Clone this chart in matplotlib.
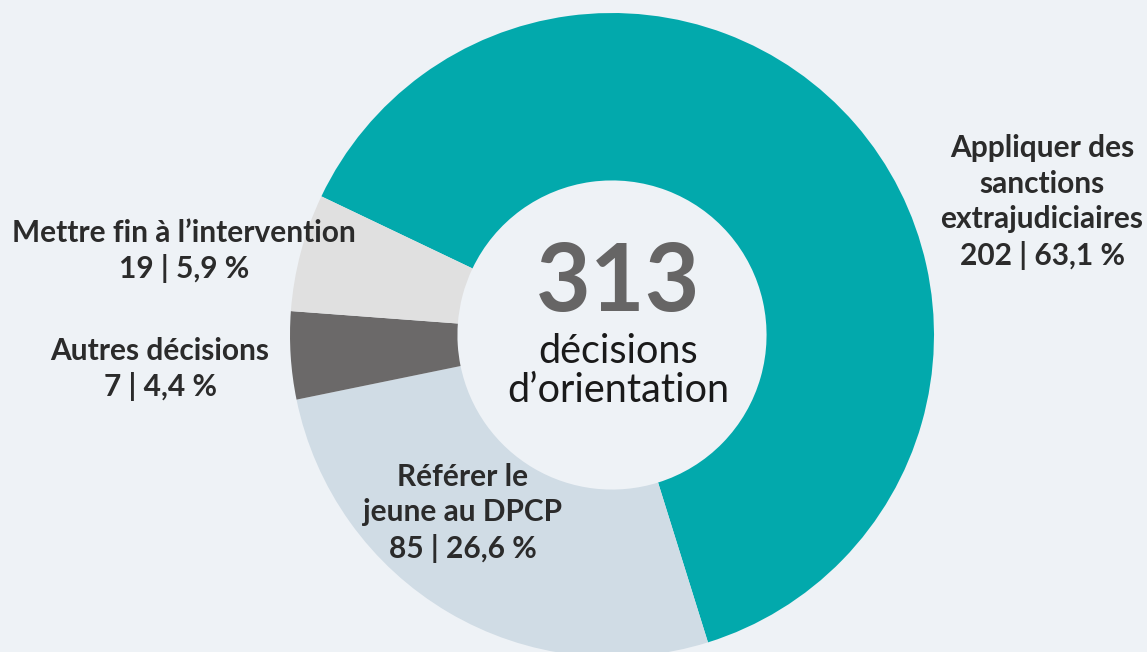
import matplotlib.pyplot as plt

# data
labels = ['Appliquer des\nsanctions\nextrajudiciaires', 'Référer le\njeune au DPCP',
          'Autres décisions', 'Mettre fin à l\u2019intervention']
counts = [202, 85, 7, 19]
shares = [63.1, 26.6, 4.4, 5.9]
colors = ['#02A9AC', '#D0DCE5', '#6B6969', '#E0E0E0']
total = 313

bg = '#EEF2F6'
plt.rcParams['font.family'] = ['Lato', 'DejaVu Sans']

W, H = 1147, 652
cx, cy, R = 612, 335, 322


def to_data(px, py):
    return (px - cx) / R, (cy - py) / R


fig = plt.figure(figsize=(W / 100, H / 100), dpi=100, facecolor=bg)
ax = fig.add_axes([0, 0, 1, 1])
ax.set_facecolor(bg)

ax.pie(shares, colors=colors, startangle=154.5, counterclock=False, radius=1,
       wedgeprops=dict(width=0.52, linewidth=0))

ax.set_xlim(-cx / R, (W - cx) / R)
ax.set_ylim(-(H - cy) / R, cy / R)
ax.set_aspect('auto')
ax.axis('off')

# slice labels
label_pos = [(1042, 202), (463, 513), (160, 369), (184, 251)]
for lab, n, s, (px, py) in zip(labels, counts, shares, label_pos):
    txt = lab + '\n' + f'{n} | {s:.1f} %'.replace('.', ',')
    x, y = to_data(px, py)
    ax.text(x, y, txt, ha='center', va='center', fontsize=21.5, fontweight='bold',
            color='#2B2B2B', linespacing=1.33)

# centre text
x, y = to_data(618, 284)
ax.text(x, y, str(total), ha='center', va='center', fontsize=68, fontweight='bold',
        color='#666565')
x, y = to_data(618, 371)
ax.text(x, y, 'décisions\nd\u2019orientation', ha='center', va='center', fontsize=28.5,
        color='#1A1A1A', linespacing=1.05)

fig.savefig('out.png', dpi=100, facecolor=bg)
